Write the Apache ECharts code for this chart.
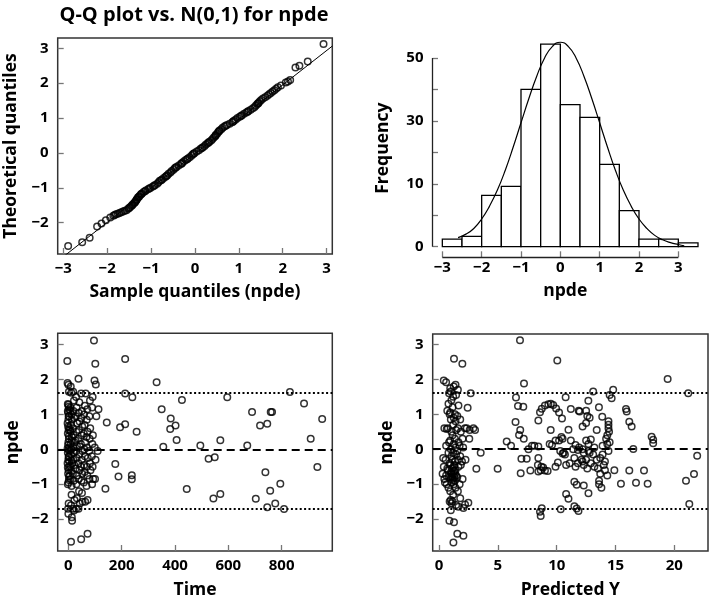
<!DOCTYPE html>
<html><head><meta charset="utf-8">
<script src="https://cdn.jsdelivr.net/npm/echarts/dist/echarts.min.js"></script>
<style>html,body{margin:0;padding:0;background:#fff}#c{width:709px;height:601px}</style>
</head><body><div id="c"></div>
<script>
// ---------- DATA ----------
const qqTicks = [-3,-2,-1,0,1,2,3];
const qqYTicks = [-2,-1,0,1,2,3];
// [sample quantile, theoretical quantile]
const qqPoints = [
[-2.89,-2.67],[-2.57,-2.56],[-2.40,-2.43],[-2.23,-2.11],[-2.13,-2.02],[-2.03,-1.93],[-1.93,-1.85],
[-1.86,-1.80],[-1.83,-1.78],[-1.80,-1.76],[-1.76,-1.74],[-1.72,-1.72],[-1.68,-1.70],[-1.64,-1.68],[-1.60,-1.66],[-1.56,-1.64],
[-1.52,-1.60],[-1.50,-1.58],[-1.48,-1.56],[-1.45,-1.52],[-1.43,-1.50],[-1.42,-1.48],[-1.39,-1.44],[-1.37,-1.42],[-1.36,-1.40],
[-1.34,-1.36],[-1.33,-1.34],[-1.32,-1.32],[-1.30,-1.28],[-1.28,-1.26],[-1.27,-1.24],[-1.24,-1.20],[-1.22,-1.18],[-1.21,-1.16],[-1.17,-1.12],
[-1.14,-1.10],[-1.12,-1.08],[-1.07,-1.04],[-1.04,-1.02],[-1.01,-1.00],[-0.96,-0.96],[-0.93,-0.94],[-0.91,-0.92],[-0.86,-0.88],
[-0.83,-0.84],[-0.80,-0.80],[-0.77,-0.78],[-0.75,-0.76],[-0.71,-0.72],[-0.67,-0.68],[-0.65,-0.66],[-0.63,-0.64],[-0.60,-0.60],[-0.56,-0.56],
[-0.53,-0.52],[-0.49,-0.48],[-0.46,-0.44],[-0.44,-0.42],[-0.42,-0.40],[-0.37,-0.36],[-0.32,-0.32],[-0.30,-0.30],[-0.29,-0.28],[-0.25,-0.24],
[-0.21,-0.20],[-0.18,-0.18],[-0.16,-0.16],[-0.12,-0.12],[-0.08,-0.08],[-0.05,-0.04],[-0.03,-0.02],[-0.01,0.00],[0.04,0.04],[0.09,0.08],
[0.13,0.12],[0.16,0.14],[0.18,0.16],[0.22,0.20],[0.25,0.24],[0.29,0.28],[0.31,0.30],[0.33,0.32],[0.37,0.36],[0.40,0.40],
[0.43,0.44],[0.46,0.48],[0.47,0.50],[0.48,0.52],[0.51,0.56],[0.53,0.60],[0.55,0.62],[0.56,0.64],[0.60,0.68],[0.63,0.72],[0.67,0.76],
[0.70,0.78],[0.73,0.80],[0.79,0.84],[0.85,0.88],[0.87,0.90],[0.89,0.92],[0.93,0.96],[0.97,1.00],
[1.02,1.04],[1.05,1.06],[1.07,1.08],[1.12,1.12],[1.17,1.16],[1.20,1.18],[1.22,1.20],[1.27,1.24],[1.32,1.28],
[1.36,1.32],[1.39,1.36],[1.42,1.40],[1.44,1.42],[1.45,1.44],[1.48,1.48],[1.51,1.52],[1.55,1.56],
[1.60,1.60],[1.65,1.64],[1.69,1.68],[1.73,1.72],[1.77,1.76],[1.81,1.80],[1.85,1.84],[1.89,1.88],
[1.96,1.93],[2.07,2.02],[2.12,2.05],[2.17,2.09],[2.29,2.45],[2.38,2.50],[2.57,2.62],[2.93,3.12]
];
const qqLineIntercept = -0.02;
const qqLineSlope = 0.985;

const histStarts = [-3,-2.5,-2,-1.5,-1,-0.5,0,0.5,1,1.5,2,2.5,3];
const histBinWidth = 0.5;
const histCounts = [2.4,3.3,16.3,19.2,50,64.4,45.2,41.1,26.2,11.5,2.4,2.4,1.2];
const histXTicks = [-3,-2,-1,0,1,2,3];
const histYTicks = [0,10,20,30,40,50,60];
const histYLabelValues = [0,20,40,60];
const histYLabels = ['0','10','30','50'];
const curveX = [-2.6,-2.4,-2.2,-2.0,-1.8,-1.6,-1.4,-1.2,-1.0,-0.8,-0.6,-0.4,-0.2,0,0.2,0.4,0.6,0.8,1.0,1.2,1.4,1.6,1.8,2.0,2.2,2.4,2.6,2.8,3.0,3.15];
const curveY = [2.9,4.0,5.8,8.8,12.9,18.0,24.3,31.6,39.4,47.1,54.2,60.0,63.7,65,63.7,60.0,54.2,47.1,39.4,31.6,24.3,18.0,12.9,8.8,5.8,3.6,2.2,1.3,0.7,0.3];

const npdeTicks = [-2,-1,0,1,2,3];
const timeTicks = [0,200,400,600,800];
const predTicks = [0,5,10,15,20];
const refUpper = 1.61, refZero = 0, refLower = -1.69;

// [time, npde]
const timePts = [
[-3,1.9],[0,1.85],[2,1.65],[-2,1.3],[1,1.22],[3,1.15],[-1,1.05],[2,0.95],[0,0.85],[-3,0.75],[3,0.62],[1,0.55],[-2,0.45],[2,0.3],[0,0.2],[-1,0.12],[3,0.05],[1,-0.02],[-2,-0.1],[2,-0.2],[0,-0.3],[-3,-0.4],[3,-0.5],[1,-0.6],[-1,-0.7],[2,-0.78],[0,-0.95],[-2,-1.0],[1,-1.55],[-1,-1.7],[0,-1.85],[-4,2.53],
[-2,1.1],[1,0.95],[-1,0.65],[2,0.38],[-3,0.02],[1,-0.22],[-2,-0.52],[2,-0.88],[0,1.28],[3,-0.35],
[9,1.8],[11,1.62],[8,1.2],[12,1.0],[10,0.7],[9,0.5],[13,0.35],[8,0.15],[11,0.0],[10,-0.15],[12,-0.32],[9,-0.5],[11,-0.62],[8,-0.85],[12,-1.3],[10,-1.6],[13,-1.95],[14,-2.05],[10,-2.65],
[7,1.1],[13,0.85],[6,0.55],[12,0.25],[7,-0.05],[14,-0.4],[6,-0.75],[12,-1.05],
[18,1.65],[21,1.4],[19,1.1],[22,0.9],[17,0.6],[20,0.4],[23,0.2],[18,0.05],[21,-0.1],[19,-0.3],[22,-0.45],[17,-0.7],[20,-0.9],[23,-1.45],[18,-1.7],[21,-1.75],
[29,1.5],[31,1.2],[28,0.95],[33,0.75],[30,0.5],[27,0.25],[32,0.1],[29,-0.05],[31,-0.25],[28,-0.55],[33,-0.75],[30,-1.0],[32,-1.4],[29,-1.7],
[38,2.02],[41,1.35],[39,1.05],[42,0.8],[40,0.55],[37,0.3],[43,0.08],[41,-0.15],[38,-0.4],[42,-0.6],[39,-0.85],[40,-1.2],[43,-1.55],[38,-1.7],
[48,1.6],[51,1.1],[49,0.9],[52,0.65],[50,0.4],[47,0.15],[53,-0.05],[50,-0.3],[48,-0.5],[52,-0.7],[49,-0.9],[51,-1.25],[53,-1.5],[48,-2.58],
[62,1.25],[59,1.0],[61,0.7],[58,0.45],[63,0.2],[60,0.0],[62,-0.2],[59,-0.45],[61,-0.65],[58,-0.95],[63,-1.5],
[65,1.6],[71,1.15],[69,0.85],[72,0.5],[68,0.35],[70,0.05],[73,-0.25],[69,-0.5],[71,-0.75],[68,-1.05],[72,-1.45],[72,-2.42],
[81,1.4],[79,0.95],[82,0.6],[80,0.3],[78,-0.05],[81,-0.4],[83,-0.6],[79,-0.85],
[91,1.5],[89,1.2],[92,0.4],[90,0.15],[88,-0.2],[91,-0.5],[89,-1.0],[93,-0.85],
[101,2.45],[98,1.97],[103,1.86],[96,3.12],[99,0.05],[102,-0.3],[100,-0.85],[113,1.15],[110,-0.05],[105,0.95],
[144,0.77],[139,-1.13],[176,-0.42],[188,-0.78],[194,0.63],[213,0.72],[213,2.59],[213,1.60],[240,1.49],[238,-0.74],[238,-0.86],[256,0.50],[331,1.92],[350,1.15],[356,0.07],[384,0.88],[382,0.58],[402,0.68],[406,0.27],[426,1.41],[444,-1.14],[495,0.11],[526,-0.27],[549,-0.23],[544,-1.41],[570,-1.28],[570,0.26],[596,1.49],[671,0.11],[689,1.07],[703,-1.42],[719,0.68],[746,0.73],[739,-0.66],[759,1.07],[764,1.07],[757,-1.19],[795,-0.99],[746,-1.66],[776,-1.55],[809,-1.71],[831,1.64],[884,1.31],[909,0.30],[934,-0.51],[952,0.87]
];

// [predicted Y, npde]
const predPts = [
[0.4,1.97],[0.45,0.6],[0.35,-0.25],[0.4,-0.5],[0.3,-0.7],[0.45,-0.85],[0.5,-0.95],
[0.6,1.92],[0.65,0.58],[0.6,0.1],[0.55,-0.3],[0.7,-0.55],[0.6,-0.75],[0.65,-1.0],[0.7,1.1],
[0.85,1.6],[0.8,1.3],[0.9,1.0],[0.75,0.6],[0.85,0.2],[0.8,-0.1],[0.9,-0.4],[0.75,-0.6],[0.85,-0.8],[0.8,-1.1],[0.9,-1.5],[0.88,-2.05],[0.95,1.75],
[1.0,1.65],[1.05,1.4],[0.95,1.05],[1.0,0.85],[1.05,0.5],[0.95,0.25],[1.0,0.0],[1.05,-0.2],[0.98,-0.45],[1.02,-0.65],[1.0,-0.8],[1.05,-0.95],[0.95,-1.2],[1.0,-1.45],[1.05,-1.55],[1.0,-1.75],
[1.25,1.8],[1.2,1.5],[1.15,1.2],[1.25,0.9],[1.2,0.7],[1.15,0.4],[1.25,0.15],[1.2,-0.1],[1.15,-0.3],[1.25,-0.5],[1.2,-0.7],[1.15,-0.85],[1.25,-1.0],[1.2,-1.3],[1.15,-1.5],[1.22,-2.67],[1.27,2.59],
[1.4,1.85],[1.45,1.55],[1.35,1.0],[1.4,0.8],[1.45,0.55],[1.35,0.3],[1.4,0.05],[1.45,-0.15],[1.35,-0.35],[1.4,-0.6],[1.45,-0.75],[1.35,-0.9],[1.4,-1.1],[1.45,-1.6],[1.27,-2.09],
[1.6,1.7],[1.65,1.25],[1.55,0.95],[1.6,0.6],[1.65,0.2],[1.55,-0.05],[1.6,-0.3],[1.65,-0.5],[1.55,-0.8],[1.6,-1.2],[1.65,-1.65],[1.55,-2.42],
[1.1,-0.55],[1.3,-0.62],[1.1,-0.78],[1.3,-0.8],[1.2,-0.9],[1.35,-0.7],[1.05,-0.7],[1.3,-0.45],
[1.8,0.85],[1.85,0.5],[1.75,0.1],[1.8,-0.2],[1.85,-0.45],[1.75,-1.0],[1.8,-1.4],
[1.98,2.45],[2.0,0.3],[2.05,0.05],[1.95,-0.35],[2.0,-0.85],[2.07,-1.68],[2.07,-2.48],
[2.2,0.6],[2.25,-0.3],[2.21,-1.58],[2.43,1.19],[2.35,0.6],[2.49,-1.53],[2.57,0.3],[2.6,0.55],[2.69,1.6],
[2.92,0.6],[3.06,0.55],[3.17,-0.56],[3.54,-0.1],[4.98,-0.56],
[6.88,3.12],[7.22,1.88],[6.54,1.48],[6.71,1.24],[7.16,1.22],[6.5,0.78],[6.9,0.55],[6.8,0.41],[7.2,0.30],[5.75,0.22],[6.12,0.10],[7.0,-0.27],[7.45,-0.27],[6.94,-0.69],[7.76,-0.61],[8.44,-0.64],[8.64,-0.6],[9.0,-0.61],[9.23,-0.62],[8.4,-0.45],[8.7,-0.5],[8.85,-0.52],
[8.44,0.82],[8.58,1.06],[8.73,1.16],[9.0,1.25],[9.29,1.29],[9.5,1.3],[9.7,1.27],[9.95,1.17],[10.2,1.05],[10.45,0.88],
[10.05,2.54],[10.76,1.49],[13.1,1.65],[14.8,1.70],[14.67,1.46],[12.69,1.39],[11.2,1.15],[11.87,1.1],[11.95,1.08],[12.5,1.1],[12.6,0.95],[12.2,0.65],[12.5,0.75],[12.8,0.9],[13.59,1.2],[13.87,0.93],
[14.4,0.8],[14.4,0.7],[14.4,0.6],[14.45,0.5],[14.3,0.4],[14.2,0.3],[13.4,0.55],[9.49,0.55],[11.0,0.56],
[7.6,0.0],[7.9,0.1],[8.1,0.1],[8.44,0.08],[8.44,-0.25],[9.4,0.15],[9.6,0.12],[9.9,0.25],[10.2,0.25],[10.4,0.35],[10.5,0.3],[10.3,-0.05],[10.6,-0.1],[10.7,-0.15],[10.5,-0.12],[11.2,0.25],[11.4,0.0],[11.6,0.12],[11.8,-0.02],[11.5,-0.25],[11.8,-0.4],[11.6,-0.5],[12.1,-0.3],[12.3,-0.45],[12.6,-0.55],[11.9,0.05],[12.2,0.0],[12.3,-0.1],[12.7,-0.05],[12.5,0.25],[12.9,0.28],[12.7,0.15],[12.8,-0.1],[13.1,-0.15],[13.4,-0.3],[13.7,-0.25],[13.9,-0.15],[14.1,-0.35],[12.9,-0.4],[13.2,-0.5],[13.5,-0.55],[13.7,-0.7],[14.0,-0.45],[12.5,-0.3],[12.2,-0.35],[13.2,0.05],[13.9,0.1],[14.3,0.15],[14.5,0.2],[14.4,-0.05],[9.9,-0.5],[10.1,-0.38],[10.8,-0.45],[11.1,-0.4],
[11.5,-0.93],[11.7,-1.02],[12.3,-1.04],[12.7,-1.26],[10.8,-1.28],[11.0,-1.42],[13.6,-1.0],[13.8,-1.1],[13.6,-0.9],[14.1,-0.6],[14.3,-0.75],[14.9,-0.6],[15.46,-0.99],[8.73,-1.69],[8.58,-1.79],[8.64,-1.91],[10.34,-1.72],[11.5,-1.63],[11.7,-1.7],[11.85,-1.77],
[19.43,2.01],[21.18,1.60],[15.89,1.15],[15.95,1.08],[16.17,0.79],[16.37,0.65],[16.51,0.01],[18.07,0.36],[18.2,0.27],[18.2,0.17],[21.94,-0.19],[16.17,-0.61],[16.74,-0.96],[17.42,-0.61],[17.73,-0.99],[20.99,-0.9],[21.67,-0.71],[21.27,-1.57],[14.5,1.55]
];

// ---------- CHART ----------
const FONT = '"Open Sans"';
const fmt = v => (v < 0 ? '\u2212' + Math.abs(v) : String(v));
const tick = vals => ({show:true, inside:true, length:6, customValues: vals, lineStyle:{color:'#777', width:1.3}});
const lab = (vals, margin, f) => ({show:true, customValues: vals, formatter: f || fmt, margin: margin, fontFamily: FONT, fontWeight:700, fontSize:15, color:'#000'});
const nameStyle = {fontFamily: FONT, fontWeight:700, fontSize:17.5, color:'#000'};
const noLine = {show:false, onZero:false};
const gridBox = {show:true, borderColor:'#333', borderWidth:1.5, backgroundColor:'transparent'};
const circle = {type:'scatter', symbol:'circle', symbolSize:6.5, itemStyle:{color:'transparent', borderColor:'#000', borderWidth:1.5}, silent:true};

const qqXmin = -3.128, qqXmax = 3.13;
const refLines = {
  silent:true, symbol:'none', label:{show:false},
  data:[
    {yAxis: refUpper, lineStyle:{type:[2,2.4], width:2, color:'#000'}},
    {yAxis: refZero, lineStyle:{type:[8,5], width:2, color:'#000'}},
    {yAxis: refLower, lineStyle:{type:[2,2.4], width:2, color:'#000'}}
  ]
};

const option = {
  animation:false,
  backgroundColor:'#fff',
  title:{text:'Q-Q plot vs. N(0,1) for npde', left:189, top:0, textAlign:'center',
         textStyle:{fontFamily:FONT, fontWeight:700, fontSize:20, color:'#000'}},
  grid:[
    Object.assign({left:57.7, top:38, width:274.6, height:216}, gridBox),
    {left:432.5, top:39.1, width:265.5, height:218.2, show:false},
    Object.assign({left:57.7, top:333.3, width:274.6, height:217.7}, gridBox),
    Object.assign({left:432.7, top:334, width:275.3, height:217}, gridBox)
  ],
  xAxis:[
    {gridIndex:0, type:'value', min:qqXmin, max:qqXmax, axisLine:noLine, splitLine:{show:false},
     axisTick:tick(qqTicks), axisLabel:lab(qqTicks, 7),
     name:'Sample quantiles (npde)', nameLocation:'middle', nameGap:29, nameTextStyle:nameStyle},
    {gridIndex:1, type:'value', min:-3.25, max:3.5, axisLine:noLine, splitLine:{show:false},
     axisTick:tick(histXTicks), axisLabel:lab(histXTicks, 3),
     name:'npde', nameLocation:'middle', nameGap:25, nameTextStyle:nameStyle},
    {gridIndex:2, type:'value', min:-40, max:990, axisLine:noLine, splitLine:{show:false},
     axisTick:tick(timeTicks), axisLabel:lab(timeTicks, 7),
     name:'Time', nameLocation:'middle', nameGap:30, nameTextStyle:nameStyle},
    {gridIndex:3, type:'value', min:-0.54, max:22.86, axisLine:noLine, splitLine:{show:false},
     axisTick:tick(predTicks), axisLabel:lab(predTicks, 7),
     name:'Predicted Y', nameLocation:'middle', nameGap:30, nameTextStyle:nameStyle}
  ],
  yAxis:[
    {gridIndex:0, type:'value', min:-2.897, max:3.295, axisLine:noLine, splitLine:{show:false},
     axisTick:tick(qqYTicks), axisLabel:lab(qqYTicks, 9),
     name:'Theoretical quantiles', nameLocation:'middle', nameGap:38, nameTextStyle:nameStyle},
    {gridIndex:1, type:'value', min:-3.37, max:66, axisLine:noLine, splitLine:{show:false},
     axisTick:Object.assign(tick(histYTicks), {length:5.5}),
     axisLabel:lab(histYLabelValues, 9, v => histYLabels[histYLabelValues.indexOf(v)] || ''),
     name:'Frequency', nameLocation:'middle', nameGap:40, nameTextStyle:nameStyle},
    {gridIndex:2, type:'value', min:-2.914, max:3.324, axisLine:noLine, splitLine:{show:false},
     axisTick:tick(npdeTicks), axisLabel:lab(npdeTicks, 9),
     name:'npde', nameLocation:'middle', nameGap:36, nameTextStyle:nameStyle},
    {gridIndex:3, type:'value', min:-2.914, max:3.30, axisLine:noLine, splitLine:{show:false},
     axisTick:tick(npdeTicks), axisLabel:lab(npdeTicks, 9),
     name:'npde', nameLocation:'middle', nameGap:37, nameTextStyle:nameStyle}
  ],
  series:[
    Object.assign({}, circle, {xAxisIndex:0, yAxisIndex:0, data:qqPoints, z:3}),
    {type:'line', xAxisIndex:0, yAxisIndex:0, symbol:'none', silent:true, clip:true, z:2,
     lineStyle:{color:'#000', width:1},
     data:[[qqXmin, qqLineIntercept + qqLineSlope*qqXmin],[qqXmax, qqLineIntercept + qqLineSlope*qqXmax]]},
    {type:'custom', xAxisIndex:1, yAxisIndex:1, silent:true, z:2,
     data: histStarts.map((s,i) => [s, s + histBinWidth, histCounts[i]]),
     encode:{x:[0,1], y:2},
     renderItem:(params, api) => {
       const p0 = api.coord([api.value(0), 0]);
       const p1 = api.coord([api.value(1), api.value(2)]);
       return {type:'rect', shape:{x:p0[0], y:p1[1], width:p1[0]-p0[0], height:p0[1]-p1[1]},
               style:{fill:'#fff', stroke:'#000', lineWidth:1.3}};
     }},
    {type:'line', xAxisIndex:1, yAxisIndex:1, symbol:'none', smooth:true, silent:true, z:4,
     lineStyle:{color:'#000', width:1.2},
     data: curveX.map((x,i) => [x, curveY[i]]),
     markLine:{silent:true, symbol:'none', label:{show:false}, lineStyle:{color:'#222', width:1.3, type:'solid'},
       data:[
         [{coord:[-3.25, histYTicks[0]]},{coord:[-3.25, histYTicks[histYTicks.length-1]]}],
         [{coord:[histXTicks[0], -3.37]},{coord:[histXTicks[histXTicks.length-1], -3.37]}]
       ]}},
    Object.assign({}, circle, {xAxisIndex:2, yAxisIndex:2, data:timePts, markLine:refLines}),
    Object.assign({}, circle, {xAxisIndex:3, yAxisIndex:3, data:predPts, markLine:refLines})
  ]
};
const chart = echarts.init(document.getElementById('c'), null, {renderer:'canvas'});
chart.setOption(option);
</script>
</body></html>
